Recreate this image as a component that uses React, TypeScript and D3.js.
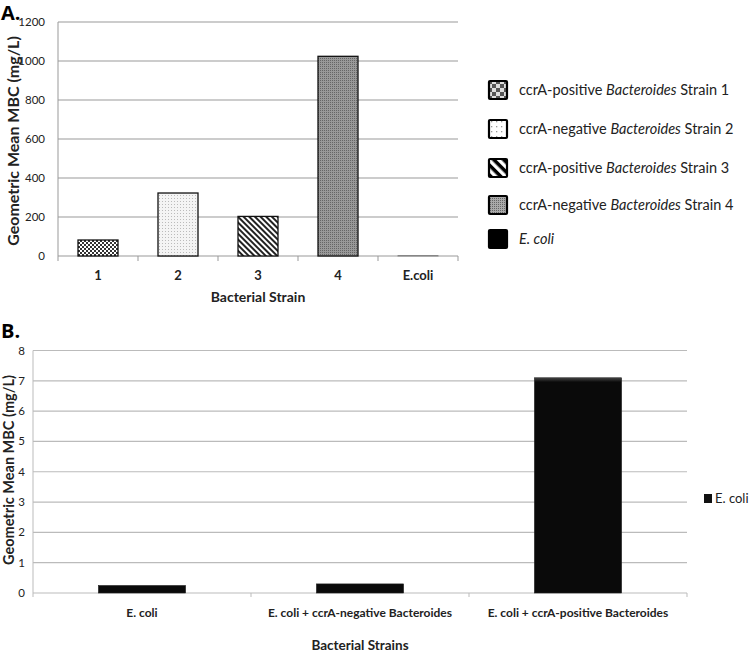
import * as d3 from "d3";

const strainsA = ["1", "2", "3", "4", "E.coli"];
const mbcA = [82, 323, 203, 1024, 2];
const yTicksA = [0, 200, 400, 600, 800, 1000, 1200];
const legendA = [
  ["ccrA-positive ", "Bacteroides", " Strain 1"],
  ["ccrA-negative ", "Bacteroides", " Strain 2"],
  ["ccrA-positive ", "Bacteroides", " Strain 3"],
  ["ccrA-negative ", "Bacteroides", " Strain 4"],
];

const strainsB = ["E. coli", "E. coli + ccrA-negative Bacteroides", "E. coli + ccrA-positive Bacteroides"];
const mbcB = [0.25, 0.3, 7.1];
const yTicksB = [0, 1, 2, 3, 4, 5, 6, 7, 8];

const fills = ["url(#chk)", "url(#dots)", "url(#diag)", "url(#grey)", "#000"];
const legFills = ["url(#chkL)", "url(#dotsL)", "url(#diagL)", "url(#greyL)", "#000"];

const font = "Lato, 'Open Sans', sans-serif";

export default function App() {
  // panel A
  const xA = d3.scaleBand().domain(strainsA).range([58, 458]).paddingInner(0.5).paddingOuter(0.25);
  const yA = d3.scaleLinear().domain([0, 1200]).range([256, 22]);
  const bandA = d3.scaleBand().domain(strainsA).range([58, 458]);

  // panel B
  const xB = d3.scaleBand().domain(strainsB).range([33, 687]).paddingInner(0.6).paddingOuter(0.3);
  const bandB = d3.scaleBand().domain(strainsB).range([33, 687]);
  const yB = d3.scaleLinear().domain([0, 8]).range([593, 350.5]);

  return (
    <svg width={750} height={652} style={{ position: "absolute", left: 0, top: 0, background: "#fff" }} fontFamily={font}>
      <defs>
        <pattern id="chk" width="4" height="4" patternUnits="userSpaceOnUse">
          <rect width="4" height="4" fill="#fff" />
          <rect width="2" height="2" fill="#333" />
          <rect x="2" y="2" width="2" height="2" fill="#333" />
        </pattern>
        <pattern id="chkL" width="8" height="8" patternUnits="userSpaceOnUse">
          <rect width="8" height="8" fill="#ddd" />
          <rect width="4" height="4" fill="#555" />
          <rect x="4" y="4" width="4" height="4" fill="#555" />
        </pattern>
        <pattern id="dots" width="3" height="3" patternUnits="userSpaceOnUse">
          <rect width="3" height="3" fill="#f4f4f4" />
          <rect width="1" height="1" fill="#bbb" />
        </pattern>
        <pattern id="dotsL" width="5" height="5" patternUnits="userSpaceOnUse">
          <rect width="5" height="5" fill="#fff" />
          <rect x="1" y="1" width="1.3" height="1.3" fill="#999" />
        </pattern>
        <pattern id="diag" width="4" height="4" patternUnits="userSpaceOnUse" patternTransform="rotate(45)">
          <rect width="4" height="4" fill="#fff" />
          <rect width="4" height="2" fill="#222" />
        </pattern>
        <pattern id="diagL" width="7" height="7" patternUnits="userSpaceOnUse" patternTransform="rotate(45)">
          <rect width="7" height="7" fill="#fff" />
          <rect width="7" height="3.5" fill="#000" />
        </pattern>
        <pattern id="grey" width="2" height="2" patternUnits="userSpaceOnUse">
          <rect width="2" height="2" fill="#999" />
          <rect width="1" height="1" fill="#666" />
        </pattern>
        <pattern id="greyL" width="2" height="2" patternUnits="userSpaceOnUse">
          <rect width="2" height="2" fill="#aaa" />
          <rect width="1" height="1" fill="#666" />
        </pattern>
        <linearGradient id="blk" x1="0" y1="0" x2="0" y2="1">
          <stop offset="0" stopColor="#444" />
          <stop offset="0.02" stopColor="#0a0a0a" />
          <stop offset="1" stopColor="#0a0a0a" />
        </linearGradient>
      </defs>

      {/* ---------- Panel A ---------- */}
      <text x={1} y={20} fontSize={20} fontWeight="bold" fontFamily="'Open Sans', sans-serif">A.</text>
      {yTicksA.map(t => (
        <g key={t}>
          {t > 0 && <line x1={58} x2={458} y1={yA(t)} y2={yA(t)} stroke="#999" strokeWidth={1} />}
          <text x={45} y={yA(t)} dy="0.35em" textAnchor="end" fontSize={11.5} fill="#222">{t}</text>
        </g>
      ))}
      <line x1={58} x2={58} y1={22} y2={256} stroke="#999" />
      <line x1={58} x2={458} y1={256} y2={256} stroke="#999" />
      {strainsA.map(s => (
        <line key={s} x1={bandA(s)!} x2={bandA(s)!} y1={256} y2={261} stroke="#999" />
      ))}
      <line x1={458} x2={458} y1={256} y2={261} stroke="#999" />
      {strainsA.map((s, i) => (
        <rect key={s} x={xA(s)} y={yA(mbcA[i])} width={xA.bandwidth()} height={256 - yA(mbcA[i])}
          fill={fills[i]} stroke={i === 4 ? "#888" : "#111"} strokeWidth={i === 4 ? 1 : 1.3} />
      ))}
      {strainsA.map(s => (
        <text key={s} x={bandA(s)! + bandA.bandwidth() / 2} y={280} textAnchor="middle" fontSize={13} fontWeight="bold" fill="#222">{s}</text>
      ))}
      <text x={258} y={302} textAnchor="middle" fontSize={14} fontWeight="bold" fill="#222">Bacterial Strain</text>
      <text transform="translate(19,141) rotate(-90)" textAnchor="middle" fontSize={16} fontWeight="bold" fill="#222">Geometric Mean MBC (mg/L)</text>

      {/* legend A */}
      {[...legendA, ["", "E. coli", ""]].map((l, i) => {
        const cy = [90, 129, 168, 205, 239][i];
        return (
          <g key={i}>
            <rect x={489} y={cy - 9} width={18} height={18} fill={legFills[i]} stroke="#000" strokeWidth={2.2} rx={1} />
            <text x={519} y={cy} dy="0.35em" fontSize={14.5} fill="#222">
              {l[0]}<tspan fontStyle="italic">{l[1]}</tspan>{l[2]}
            </text>
          </g>
        );
      })}

      {/* ---------- Panel B ---------- */}
      <text x={1} y={338} fontSize={20} fontWeight="bold" fontFamily="'Open Sans', sans-serif">B.</text>
      {yTicksB.map(t => (
        <g key={t}>
          {t > 0 && <line x1={33} x2={687} y1={yB(t)} y2={yB(t)} stroke="#bbb" strokeWidth={1.2} />}
          <text x={25} y={yB(t)} dy="0.35em" textAnchor="end" fontSize={11.5} fill="#222">{t}</text>
        </g>
      ))}
      <line x1={33} x2={33} y1={350.5} y2={593} stroke="#bbb" />
      <line x1={33} x2={687} y1={593} y2={593} stroke="#bbb" strokeWidth={1.2} />
      {strainsB.map(s => (
        <line key={s} x1={bandB(s)!} x2={bandB(s)!} y1={593} y2={597} stroke="#bbb" />
      ))}
      <line x1={687} x2={687} y1={593} y2={597} stroke="#bbb" />
      {strainsB.map((s, i) => (
        <rect key={s} x={xB(s)} y={yB(mbcB[i])} width={xB.bandwidth()} height={593 - yB(mbcB[i])}
          fill="url(#blk)" stroke="#222" strokeWidth={0.6} />
      ))}
      {strainsB.map(s => (
        <text key={s} x={bandB(s)! + bandB.bandwidth() / 2} y={613} dy="0.35em" textAnchor="middle" fontSize={12} fontWeight="bold" fill="#222">{s}</text>
      ))}
      <text x={360} y={645} dy="0.35em" textAnchor="middle" fontSize={13.5} fontWeight="bold" fill="#222">Bacterial Strains</text>
      <text transform="translate(14,470) rotate(-90)" textAnchor="middle" fontSize={14.5} fontWeight="bold" fill="#222">Geometric Mean MBC (mg/L)</text>

      {/* legend B */}
      <rect x={704} y={494} width={8} height={9} fill="#111" />
      <text x={715} y={498} dy="0.35em" fontSize={13} fill="#222">E. coli</text>
    </svg>
  );
}
